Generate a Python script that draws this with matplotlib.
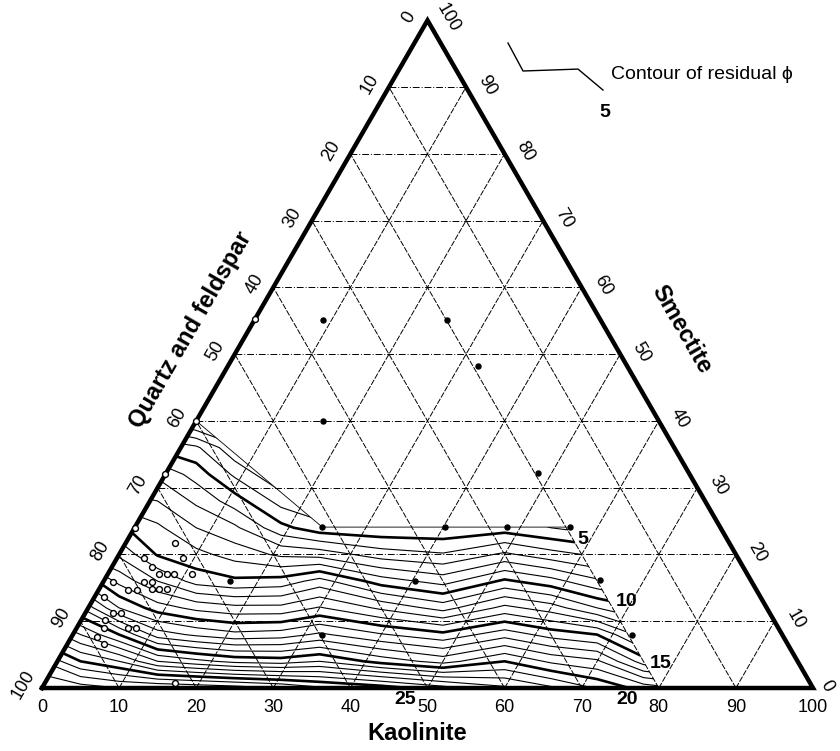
import numpy as np
import matplotlib
matplotlib.use("Agg")
import matplotlib.pyplot as plt
from matplotlib.patches import Polygon

plt.rcParams['font.family'] = ['Liberation Sans', 'DejaVu Sans']

H = np.sqrt(3) / 2


def tern(k, s):
    # kaolinite / smectite percentages -> cartesian (quartz+feldspar is the rest)
    k = np.asarray(k, float)
    s = np.asarray(s, float)
    return k + s / 2, s * H


ticks = np.arange(0, 101, 10)

# residual porosity, gridded on X (= K + S/2) columns and smectite rows
phi_x = [0, 5, 10, 15, 20, 25, 31, 36, 44, 52, 60, 66, 72, 78, 84]
phi_s = [0, 4, 8, 12, 16, 20, 24, 28, 32, 36, 40]
phi = np.array([
    [29.0, 28.5, 28.0, 28.0, 27.8, 27.5, 27.0, 26.2, 25.5, 24.4, 23.2, 22.2, 20.9, 19.6, 18.8],
    [27.0, 25.0, 24.0, 22.0, 21.3, 20.7, 20.5, 21.0, 19.6, 18.6, 20.0, 18.8, 18.2, 15.5, 14.5],
    [24.0, 22.0, 20.0, 17.5, 16.8, 16.3, 16.5, 17.2, 16.1, 15.3, 16.6, 15.6, 15.0, 12.5, 11.5],
    [21.0, 19.0, 16.0, 14.5, 13.7, 13.3, 13.3, 14.1, 12.8, 11.6, 13.3, 12.5, 11.0, 10.0, 9.5],
    [18.0, 16.0, 13.7, 12.0, 10.6, 10.2, 10.4, 11.4, 9.5, 8.6, 10.2, 9.4, 8.2, 7.5, 7.0],
    [15.0, 13.0, 11.8, 9.9, 9.3, 8.6, 7.8, 7.6, 6.5, 6.1, 7.2, 6.4, 5.8, 5.0, 4.5],
    [12.0, 11.0, 10.2, 9.2, 8.0, 7.2, 5.3, 4.4, 4.2, 4.2, 4.5, 4.0, 3.5, 3.2, 3.0],
    [10.0, 9.0, 8.5, 8.0, 6.8, 5.5, 3.6, 3.0, 3.0, 3.0, 3.5, 3.0, 3.0, 3.0, 3.0],
    [8.0, 7.5, 7.0, 6.8, 5.6, 3.8, 2.0, 2.0, 2.0, 2.0, 2.0, 2.0, 2.0, 2.0, 2.0],
    [6.0, 5.5, 5.0, 4.8, 4.2, 2.2, 1.0, 1.0, 1.0, 1.0, 1.0, 1.0, 1.0, 1.0, 1.0],
    [4.0, 3.5, 3.0, 2.0, 0.8, 0.5, 0.5, 0.5, 0.5, 0.5, 0.5, 0.5, 0.5, 0.5, 0.5],
])
levels = np.arange(1, 30)
bold_levels = [5, 10, 15, 20, 25]

# region of the diagram covered by the porosity model (K, S)
domain_k = [0, 80, 55.9, 24.3, 0]
domain_s = [0, 0, 24.1, 24.1, 40]

# samples (filled dots)
dot_k = [8.9, 25.0, 16.4, 32.4, 48.2, 24.3, 40.2, 48.3, 56.4, 16.4, 40.4, 64.3, 32.4, 72.6]
dot_s = [55.1, 55.1, 40.0, 48.2, 32.2, 24.1, 24.1, 24.1, 24.1, 16.0, 16.0, 16.2, 7.9, 7.9]

# samples (open circles)
circ_k = [6.4, 8.5, 10.9, 3.5, 5.2, 6.6, 7.6, 8.6, 5.3, 6.3, 3.8, 5.0, 6.9, 7.8, 8.8,
          1.3, 1.2, 3.6, 4.6, 3.1, 3.5, 6.65, 7.7, 3.3, 4.7, 16.9,
          0.0, 0.0, 0.0, 0.0]
circ_s = [21.7, 19.5, 17.1, 19.5, 18.1, 17.1, 17.1, 17.1, 15.9, 15.9, 14.7, 14.7, 14.8, 14.8, 14.8,
          15.9, 13.6, 11.2, 11.2, 10.2, 9.0, 9.0, 9.0, 7.6, 6.6, 0.75,
          55.2, 40.0, 32.0, 24.0]

fig = plt.figure(figsize=(8.4, 7.51), dpi=100)
ax = fig.add_axes([0, 0, 1, 1])
ax.set_xlim(-5.447, 103.5)
ax.set_ylim(-8.17, 89.24)
ax.axis('off')
px = 1 / 7.71  # one pixel in data units

# grid
for v in ticks[1:-1]:
    x, y = tern([0, 100 - v], [v, v])
    ax.plot(x, y, color='k', lw=0.7, ls=(0, (7, 2, 1, 2)), zorder=1)
    x, y = tern([v, v], [0, 100 - v])
    ax.plot(x, y, color='k', lw=0.7, ls=(0, (6, 1.5)), zorder=1)
    x, y = tern([100 - v, 0], [0, 100 - v])
    ax.plot(x, y, color='k', lw=0.7, ls=(0, (6, 1.5)), zorder=1)

# porosity contours, clipped to the modelled region
dx, dy = tern(domain_k, domain_s)
clip = Polygon(np.column_stack([dx, dy]), closed=True, facecolor='none',
               edgecolor='none', transform=ax.transData)
ax.add_patch(clip)
lws = [1.9 if lv in bold_levels else 0.8 for lv in levels]
cs = ax.contour(phi_x, np.array(phi_s) * H, phi, levels=levels, colors='k',
                linewidths=lws, zorder=2)
cs.set_clip_path(clip)

# upper limit of the model
ax.plot(dx[2:], dy[2:], color='k', lw=0.6, zorder=2)

# triangle frame
fx, fy = tern([0, 100, 0, 0], [0, 0, 100, 0])
ax.plot(fx, fy, color='k', lw=3.2, solid_joinstyle='miter', zorder=4)

# samples
x, y = tern(dot_k, dot_s)
ax.scatter(x, y, s=13, color='k', zorder=5)
x, y = tern(circ_k, circ_s)
ax.scatter(x, y, s=18, facecolor='white', edgecolor='k', lw=1.0, zorder=5)

# tick labels
for v in ticks:
    x, y = tern(v, 0)
    ax.text(x, y - 19 * px, f"{v}", ha='center', va='center', fontsize=13)
    x, y = tern(0, 100 - v)
    ax.text(x - 19 * px, y + 3 * px, f"{v}", ha='center', va='center',
            fontsize=13, rotation=60)
    x, y = tern(100 - v, v)
    off = 21 if v > 0 else 14
    ax.text(x + off * px, y + 2 * px, f"{v}", ha='center', va='center',
            fontsize=13, rotation=-60)

# axis titles
x, y = tern(50, 0)
ax.text(x - 1.3, y - 5.9, "Kaolinite", ha='center', va='center',
        fontsize=17, fontweight='bold')
ax.text(19.3, 46.5, "Quartz and feldspar", ha='center', va='center',
        fontsize=17, fontweight='bold', rotation=60)
ax.text(82.9, 46.5, "Smectite", ha='center', va='center',
        fontsize=17, fontweight='bold', rotation=-60)

# contour labels
lab = dict(ha='center', va='center', fontsize=14, fontweight='bold')
for text, k, s in [("5", 59.0, 22.3), ("10", 69.4, 12.9), ("15", 78.5, 3.6)]:
    x, y = tern(k, s)
    ax.text(x, y, text, **lab)
ax.text(47.1, -1.5, "25", **lab)
ax.text(75.9, -1.5, "20", **lab)

# key: sample contour line
ax.plot([60.44, 62.39, 69.52, 72.76], [83.66, 80.03, 80.28, 77.56], color='k', lw=1.0)
ax.text(73.8, 79.6, "Contour of residual \u03d5", ha='left', va='center', fontsize=14)
ax.text(73.0, 74.7, "5", ha='center', va='center', fontsize=14, fontweight='bold')

fig.savefig("out.png", dpi=100)
